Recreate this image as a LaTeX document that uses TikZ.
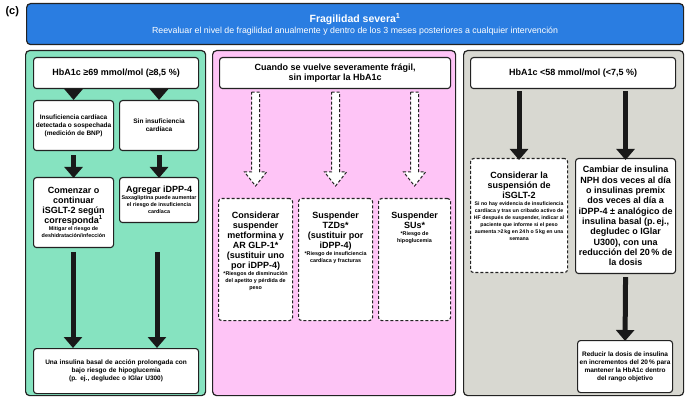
\documentclass[tikz,border=0pt]{standalone}
\usepackage{fontspec}
\setmainfont{Liberation Sans}
\usetikzlibrary{arrows.meta,calc}
\definecolor{cblue}{HTML}{2A7DE1}
\definecolor{cgreen}{HTML}{86E3C0}
\definecolor{cpink}{HTML}{FEC4F6}
\definecolor{cgray}{HTML}{D8D8D1}
\definecolor{edge}{HTML}{222222}
\newcommand\hollowarr[2]{\draw[hollow] let \p1=(#1), \p2=(#2) in (\x1-4pt,\y1) -- (\x1+4pt,\y1) -- (\x1+4pt,\y2+14pt) -- (\x1+11pt,\y2+14pt) -- (\x1,\y2) -- (\x1-11pt,\y2+14pt) -- (\x1-4pt,\y2+14pt) -- cycle;}
\newcommand\bigt[1]{{\bfseries\fontsize{9}{10}\selectfont #1\par}}
\newcommand\smt[1]{{\bfseries\fontsize{5.4}{7}\selectfont #1\par}}
\begin{document}
\begin{tikzpicture}[x=1pt,y=1pt,
 panel/.style={draw=edge,line width=1.2pt,rounded corners=4pt},
 box/.style={draw=edge,line width=1.1pt,rounded corners=3pt,fill=white,align=flush center,inner sep=2pt},
 dbox/.style={box,dashed,dash pattern=on 3pt off 2pt},
 arr/.style={line width=5pt,-{Triangle[width=18pt,length=11pt]},draw=black!90},
 hollow/.style={draw=edge,fill=white,line width=1pt,dash pattern=on 3pt off 2pt},
 hdr/.style={font=\bfseries\fontsize{9}{10.5}\selectfont},
 t7/.style={font=\bfseries\fontsize{6.5}{8}\selectfont},
 tt/.style={anchor=north,align=flush center}]
\useasboundingbox (0,0) rectangle (685,-403);
\fill[white] (0,0) rectangle (685,-403);
\node[font=\bfseries\fontsize{11}{12}\selectfont\rmfamily, anchor=north west] (lab) at (2,-3) {(c)};
\node[panel,fill=cblue,text=white,minimum width=657,minimum height=41,anchor=north west,align=center] (ban) at (26,-3)
 {{\bfseries\fontsize{10.5}{12}\selectfont Fragilidad severa\textsuperscript{1}}\\[-1pt]{\fontsize{8.8}{10}\selectfont Reevaluar el nivel de fragilidad anualmente y dentro de los 3 meses posteriores a cualquier intervención}};
\node[panel,fill=cgreen,minimum width=180,minimum height=345,anchor=north west] (pg) at (25,-50) {};
\node[panel,fill=cpink,minimum width=243,minimum height=345,anchor=north west] (pp) at (212,-50) {};
\node[panel,fill=cgray,minimum width=220,minimum height=345,anchor=north west] (pr) at (463,-50) {};
% headers
\node[box,hdr,minimum width=165,minimum height=31,anchor=north west] (hg) at (33,-57) {HbA1c ≥69 mmol/mol (≥8,5 \%)};
\node[box,hdr,minimum width=231,minimum height=31,anchor=north west,align=center] (hp) at (219,-57) {Cuando se vuelve severamente frágil,\\sin importar la HbA1c};
\node[box,hdr,minimum width=205,minimum height=31,anchor=north west] (hr) at (470,-57) {HbA1c <58 mmol/mol (<7,5 \%)};
% green
\node[box,t7,text width=76,minimum height=50,anchor=north west] (g1) at (33,-100) {Insuficiencia cardíaca detectada o sospechada (medición de BNP)};
\node[box,t7,text width=75,minimum height=50,anchor=north west] (g2) at (119,-100) {Sin insuficiencia cardíaca};
\node[box,text width=76,minimum height=70,anchor=north west] (g3) at (33,-177) {\bigt{Comenzar o continuar iSGLT-2 según corresponda\textsuperscript{1}}\smt{Mitigar el riesgo de deshidratación/infección}};
\node[box,text width=75,minimum height=45,anchor=north west] (g4) at (119,-177) {\bigt{Agregar iDPP-4}\smt{Saxagliptina puede aumentar el riesgo de insuficiencia cardíaca}};
\node[box,t7,text width=161,minimum height=45,anchor=north west,align=center] (g5) at (33,-348) {Una insulina basal de acción prolongada con\\bajo riesgo de hipoglucemia\\(p. ej., degludec o IGlar U300)};
\draw[arr] (g1.north |- hg.south) ++(0,-2) -- (g1.north);
\draw[arr] (g2.north |- hg.south) ++(0,-2) -- (g2.north);
\draw[arr] ($(g1.south)+(0,-4)$) -- ($(g3.north)+(0,-1)$);
\draw[arr] ($(g2.south)+(0,-4)$) -- ($(g4.north)+(0,-1)$);
\draw[arr] (73,-252) coordinate (c1) -- (c1 |- g5.north);
\draw[arr] (157,-252) coordinate (c2) -- (c2 |- g5.north);
% pink
\node[dbox,text width=70,minimum height=122,anchor=north west] (p1) at (218,-198) {};
\node[dbox,text width=70,minimum height=122,anchor=north west] (p2) at (298,-198) {};
\node[dbox,text width=68,minimum height=122,anchor=north west] (p3) at (378,-198) {};
\node[tt,text width=68] (p1t) at ($(p1.north)+(0,-10)$) {\bigt{Considerar suspender metformina y AR GLP-1* (sustituir uno por iDPP-4)}\smt{*Riesgos de disminución del apetito y pérdida de peso}};
\node[tt,text width=62] (p2t) at ($(p2.north)+(0,-10)$) {\bigt{Suspender TZDs* (sustituir por iDPP-4)}\smt{*Riesgo de insuficiencia cardíaca y fracturas}};
\node[tt,text width=60] (p3t) at ($(p3.north)+(0,-10)$) {\bigt{Suspender SUs*}\smt{*Riesgo de hipoglucemia}};
\hollowarr{$(p1.north |- hp.south)+(0,-3)$}{$(p1.north)+(0,12)$}
\hollowarr{$(p2.north |- hp.south)+(0,-3)$}{$(p2.north)+(0,12)$}
\hollowarr{$(p3.north |- hp.south)+(0,-3)$}{$(p3.north)+(0,12)$}
% gray
\node[dbox,text width=93,minimum height=114,anchor=north west] (r1) at (470,-158) {};
\node[tt,text width=92] (r1t) at ($(r1.north)+(0,-10)$) {\bigt{Considerar la\\suspensión de\\iSGLT-2}{\bfseries\fontsize{5.2}{7}\selectfont Si no hay evidencia de insuficiencia cardíaca y tras un cribado activo de HF después de suspender, indicar al paciente que informe si el peso aumenta >2\,kg en 24\,h o 5\,kg en una semana\par}};
\node[box,text width=96,minimum height=115,anchor=north west,font=\bfseries\fontsize{9}{10.3}\selectfont] (r2) at (575,-158) {Cambiar de insulina NPH dos veces al día o insulinas premix dos veces al día a iDPP-4 ± analógico de insulina basal (p.\,ej., degludec o IGlar U300), con una reducción del 20\,\% de la dosis};
\node[box,t7,text width=91,minimum height=52,anchor=north west] (r3) at (577,-340) {Reducir la dosis de insulina en incrementos del 20\,\% para mantener la HbA1c dentro del rango objetivo};
\draw[arr] (r1.north |- hr.south) ++(0,-2) -- ($(r1.north)+(0,-2)$);
\draw[arr] (r2.north |- hr.south) ++(0,-2) -- ($(r2.north)+(0,-2)$);
\draw[arr] ($(r2.south)+(0,-3)$) -- ($(r3.north)+(0,-1)$);
\end{tikzpicture}
\end{document}
